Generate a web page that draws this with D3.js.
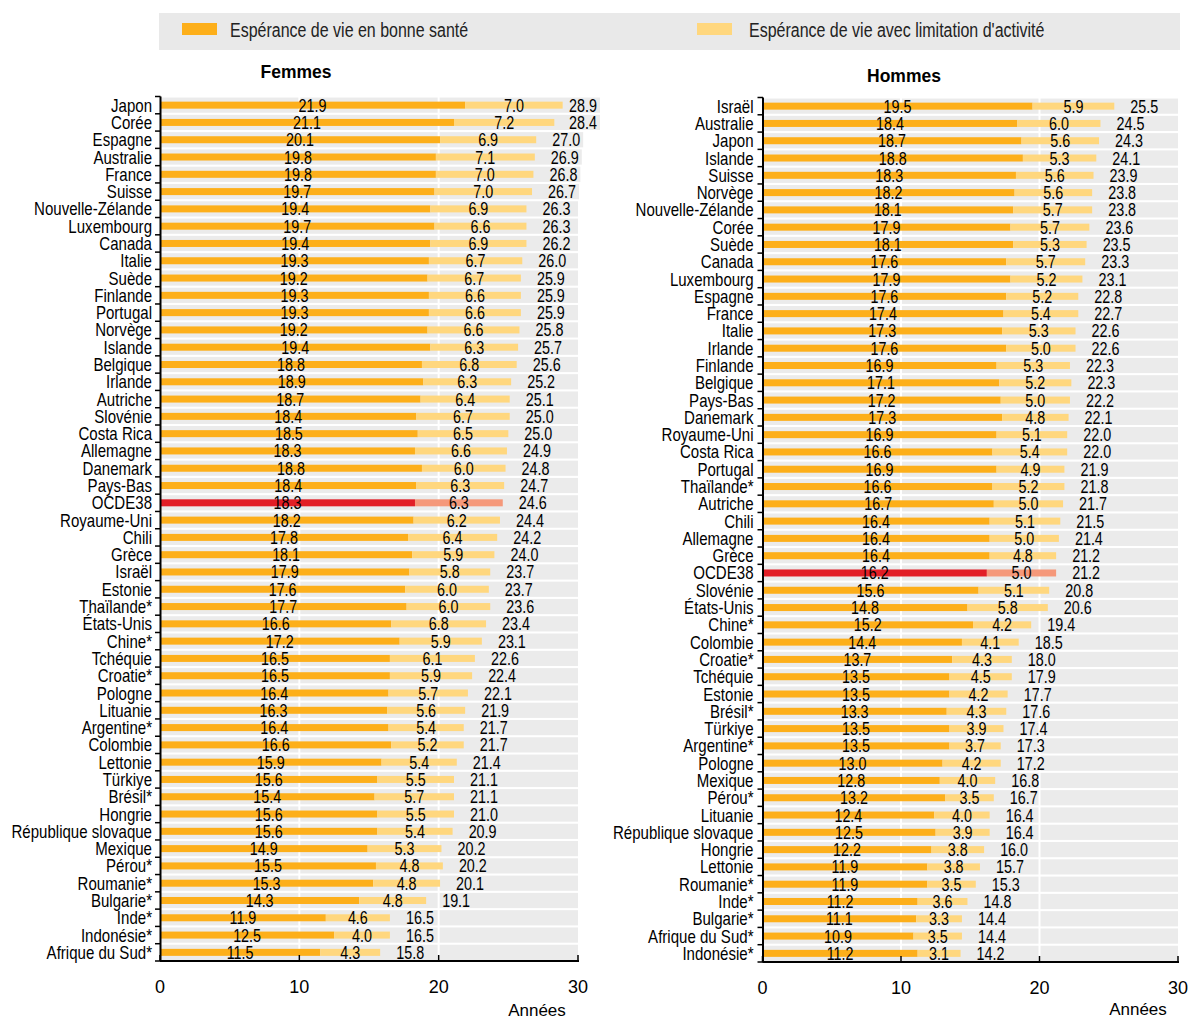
<!DOCTYPE html>
<html><head><meta charset="utf-8">
<script src="https://cdn.jsdelivr.net/npm/d3@7"></script>
<style>body{margin:0;background:#fff} svg{display:block}</style>
</head><body>
<svg id="c" width="1188" height="1020"></svg>
<script>
// ---------- DATA ----------
const legendLabels = ["Espérance de vie en bonne santé", "Espérance de vie avec limitation d'activité"];
const xTicks = [0, 10, 20, 30];
const axisTitle = "Années";

const femmesPays = ["Japon","Corée","Espagne","Australie","France","Suisse","Nouvelle-Zélande","Luxembourg","Canada","Italie","Suède","Finlande","Portugal","Norvège","Islande","Belgique","Irlande","Autriche","Slovénie","Costa Rica","Allemagne","Danemark","Pays-Bas","OCDE38","Royaume-Uni","Chili","Grèce","Israël","Estonie","Thaïlande*","États-Unis","Chine*","Tchéquie","Croatie*","Pologne","Lituanie","Argentine*","Colombie","Lettonie","Türkiye","Brésil*","Hongrie","République slovaque","Mexique","Pérou*","Roumanie*","Bulgarie*","Inde*","Indonésie*","Afrique du Sud*"];
const femmesSante = [21.9,21.1,20.1,19.8,19.8,19.7,19.4,19.7,19.4,19.3,19.2,19.3,19.3,19.2,19.4,18.8,18.9,18.7,18.4,18.5,18.3,18.8,18.4,18.3,18.2,17.8,18.1,17.9,17.6,17.7,16.6,17.2,16.5,16.5,16.4,16.3,16.4,16.6,15.9,15.6,15.4,15.6,15.6,14.9,15.5,15.3,14.3,11.9,12.5,11.5];
const femmesLimitation = [7.0,7.2,6.9,7.1,7.0,7.0,6.9,6.6,6.9,6.7,6.7,6.6,6.6,6.6,6.3,6.8,6.3,6.4,6.7,6.5,6.6,6.0,6.3,6.3,6.2,6.4,5.9,5.8,6.0,6.0,6.8,5.9,6.1,5.9,5.7,5.6,5.4,5.2,5.4,5.5,5.7,5.5,5.4,5.3,4.8,4.8,4.8,4.6,4.0,4.3];
const femmesTotal = [28.9,28.4,27.0,26.9,26.8,26.7,26.3,26.3,26.2,26.0,25.9,25.9,25.9,25.8,25.7,25.6,25.2,25.1,25.0,25.0,24.9,24.8,24.7,24.6,24.4,24.2,24.0,23.7,23.7,23.6,23.4,23.1,22.6,22.4,22.1,21.9,21.7,21.7,21.4,21.1,21.1,21.0,20.9,20.2,20.2,20.1,19.1,16.5,16.5,15.8];

const hommesPays = ["Israël","Australie","Japon","Islande","Suisse","Norvège","Nouvelle-Zélande","Corée","Suède","Canada","Luxembourg","Espagne","France","Italie","Irlande","Finlande","Belgique","Pays-Bas","Danemark","Royaume-Uni","Costa Rica","Portugal","Thaïlande*","Autriche","Chili","Allemagne","Grèce","OCDE38","Slovénie","États-Unis","Chine*","Colombie","Croatie*","Tchéquie","Estonie","Brésil*","Türkiye","Argentine*","Pologne","Mexique","Pérou*","Lituanie","République slovaque","Hongrie","Lettonie","Roumanie*","Inde*","Bulgarie*","Afrique du Sud*","Indonésie*"];
const hommesSante = [19.5,18.4,18.7,18.8,18.3,18.2,18.1,17.9,18.1,17.6,17.9,17.6,17.4,17.3,17.6,16.9,17.1,17.2,17.3,16.9,16.6,16.9,16.6,16.7,16.4,16.4,16.4,16.2,15.6,14.8,15.2,14.4,13.7,13.5,13.5,13.3,13.5,13.5,13.0,12.8,13.2,12.4,12.5,12.2,11.9,11.9,11.2,11.1,10.9,11.2];
const hommesLimitation = [5.9,6.0,5.6,5.3,5.6,5.6,5.7,5.7,5.3,5.7,5.2,5.2,5.4,5.3,5.0,5.3,5.2,5.0,4.8,5.1,5.4,4.9,5.2,5.0,5.1,5.0,4.8,5.0,5.1,5.8,4.2,4.1,4.3,4.5,4.2,4.3,3.9,3.7,4.2,4.0,3.5,4.0,3.9,3.8,3.8,3.5,3.6,3.3,3.5,3.1];
const hommesTotal = [25.5,24.5,24.3,24.1,23.9,23.8,23.8,23.6,23.5,23.3,23.1,22.8,22.7,22.6,22.6,22.3,22.3,22.2,22.1,22.0,22.0,21.9,21.8,21.7,21.5,21.4,21.2,21.2,20.8,20.6,19.4,18.5,18.0,17.9,17.7,17.6,17.4,17.3,17.2,16.8,16.7,16.4,16.4,16.0,15.7,15.3,14.8,14.4,14.4,14.2];

const highlight = "OCDE38";

// ---------- STYLE ----------
const C = {dark:"#FDAF1A", light:"#FFD77E", darkH:"#E21E26", lightH:"#F5987A", band:"#EBEBEB", legendBg:"#E9E9E9", text:"#000"};
const FONT = "'Liberation Sans',Arial,sans-serif";
const SQ = 0.82; // horizontal squeeze to mimic a narrow face

const svg = d3.select("#c");

// narrow text helper: returns the text selection
function ntext(parent, x, y, str, opts){
  const o = Object.assign({size:17.5, anchor:"start", fill:C.text, sq:SQ}, opts||{});
  const g = parent.append("g").attr("transform", `translate(${x},${y}) scale(${o.sq},1)`);
  return g.append("text").attr("x",0).attr("y",0).attr("text-anchor",o.anchor)
    .attr("font-family",FONT).attr("font-size",o.size).attr("fill",o.fill).text(str);
}

// legend
svg.append("rect").attr("x",159).attr("y",13).attr("width",1021).attr("height",37).attr("fill",C.legendBg);
const legPos = [{sx:182, tx:230},{sx:697, tx:749}];
legendLabels.forEach((l,i)=>{
  svg.append("rect").attr("x",legPos[i].sx).attr("y",23).attr("width",35).attr("height",12).attr("fill", i===0?C.dark:C.light);
  ntext(svg, legPos[i].tx, 37, l, {size:19.5, fill:"#222"});
});

function panel(cfg, title, pays, sante, lim, total){
  const g = svg.append("g");
  const x = d3.scaleLinear().domain([0,30]).range([cfg.x0, cfg.x1]);
  const y = d3.scaleBand().domain(pays).range([cfg.yTop, cfg.yBot]).paddingInner(0.12).paddingOuter(0.06);
  const bw = y.bandwidth(), step = y.step();
  const barH = 7;
  const rows = pays.map((p,i)=>({p, s:sante[i], l:lim[i], t:total[i]}));
  const base = d => y(d.p)+bw/2+6.5;

  // layers
  const bandG = g.append("g"), gridG = g.append("g"), barG = g.append("g"), txtG = g.append("g"), axG = g.append("g");

  // title
  g.append("text").attr("x",cfg.titleX).attr("y",cfg.titleY).attr("text-anchor","middle")
    .attr("font-family",FONT).attr("font-weight","bold").attr("font-size",17.5).text(title);

  // total labels (measured, clamped at the right)
  const rightEdge = [];
  rows.forEach((d,i)=>{
    const t = ntext(txtG, 0, base(d), d.t.toFixed(1));
    const w = t.node().getComputedTextLength()*SQ;
    let cx = x(d.s + d.l) + 30;
    if (cx + w/2 > cfg.labelMax) cx = cfg.labelMax - w/2;
    d3.select(t.node().parentNode).attr("transform", `translate(${cx - w/2},${base(d)}) scale(${SQ},1)`);
    rightEdge[i] = cx + w/2;
  });

  // bands
  bandG.selectAll("rect").data(rows).join("rect")
    .attr("x", x(0)).attr("y", d=>y(d.p))
    .attr("width", (d,i)=>Math.max(x(30), rightEdge[i]+3) - x(0))
    .attr("height", bw).attr("fill", C.band);

  // white grid lines
  [10,20].forEach(v=>{
    gridG.append("line").attr("x1",x(v)).attr("x2",x(v)).attr("y1",cfg.yTop).attr("y2",cfg.yBot)
      .attr("stroke","#fff").attr("stroke-width",2);
  });

  // bars
  barG.selectAll("rect.s").data(rows).join("rect").attr("class","s")
    .attr("x", x(0)).attr("y", d=>y(d.p)+bw/2-barH/2)
    .attr("width", d=>x(d.s)-x(0)).attr("height", barH)
    .attr("fill", d=>d.p===highlight?C.darkH:C.dark);
  barG.selectAll("rect.l").data(rows).join("rect").attr("class","l")
    .attr("x", d=>x(d.s)).attr("y", d=>y(d.p)+bw/2-barH/2)
    .attr("width", d=>x(d.s+d.l)-x(d.s)).attr("height", barH)
    .attr("fill", d=>d.p===highlight?C.lightH:C.light);

  // value labels
  rows.forEach(d=>{
    ntext(txtG, (x(0)+x(d.s))/2, base(d), d.s.toFixed(1), {anchor:"middle"});
    ntext(txtG, (x(d.s)+x(d.s+d.l))/2, base(d), d.l.toFixed(1), {anchor:"middle"});
    ntext(txtG, cfg.labelX, base(d), d.p, {anchor:"end", sq:0.86});
  });

  // y axis line + ticks at band boundaries
  axG.attr("stroke","#000");
  axG.append("line").attr("x1",x(0)+0.5).attr("x2",x(0)+0.5).attr("y1",cfg.yTop).attr("y2",cfg.yBot).attr("stroke-width",2);
  d3.range(pays.length+1).forEach(i=>{
    const yy = cfg.yTop + i*step;
    axG.append("line").attr("x1",x(0)-5).attr("x2",x(0)+0.5).attr("y1",yy).attr("y2",yy).attr("stroke-width",1.5);
  });
  // x axis
  axG.append("line").attr("x1",x(0)).attr("x2",x(30)+1).attr("y1",cfg.yBot).attr("y2",cfg.yBot).attr("stroke-width",2);
  xTicks.forEach(v=>{
    axG.append("line").attr("x1",x(v)).attr("x2",x(v)).attr("y1",cfg.yBot).attr("y2",cfg.yBot-6).attr("stroke-width",1.5);
  });
  g.append("g").selectAll("text").data(xTicks).join("text")
    .attr("x", d=>x(d)).attr("y", cfg.yBot+32).attr("text-anchor","middle")
    .attr("font-family",FONT).attr("font-size",18).attr("fill",C.text).text(d=>d);
  g.append("text").attr("x",cfg.anneesX).attr("y",cfg.anneesY).attr("text-anchor","middle")
    .attr("font-family",FONT).attr("font-size",17).attr("fill",C.text).text(axisTitle);
}

panel({x0:160, x1:578, yTop:96.5, yBot:961, labelX:152, labelMax:597, titleX:296, titleY:78, anneesX:537, anneesY:1016},
      "Femmes", femmesPays, femmesSante, femmesLimitation, femmesTotal);
panel({x0:762.5, x1:1178, yTop:97.5, yBot:962, labelX:753.5, labelMax:1176, titleX:904, titleY:82, anneesX:1138, anneesY:1015},
      "Hommes", hommesPays, hommesSante, hommesLimitation, hommesTotal);
</script>
</body></html>
